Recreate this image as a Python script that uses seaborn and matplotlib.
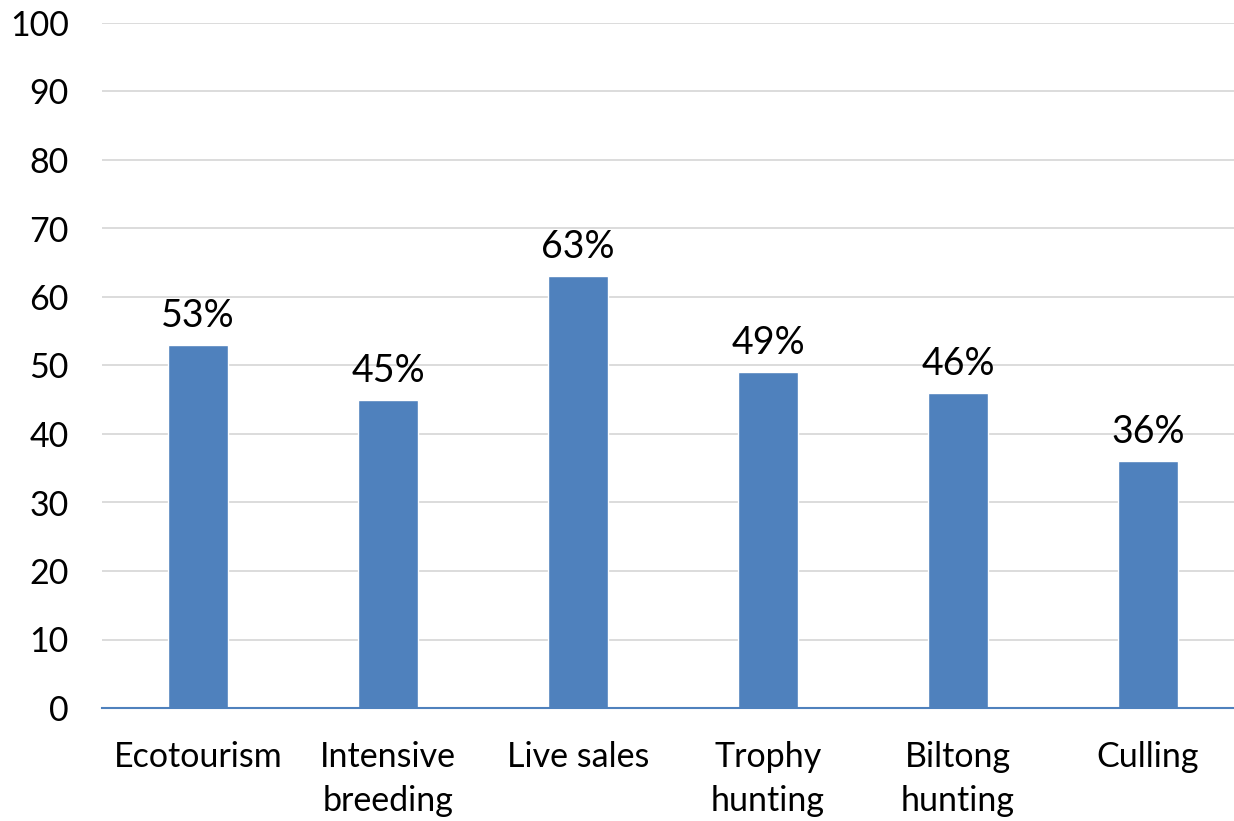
import matplotlib
matplotlib.use("Agg")
import matplotlib.pyplot as plt
import seaborn as sns
import pandas as pd

categories = ["Ecotourism", "Intensive\nbreeding", "Live sales",
              "Trophy\nhunting", "Biltong\nhunting", "Culling"]
values = [53, 45, 63, 49, 46, 36]
y_ticks = list(range(0, 101, 10))

sns.set_style("white")
plt.rcParams['font.family'] = ['Lato', 'DejaVu Sans']

df = pd.DataFrame({"category": categories, "value": values})

fig = plt.figure(figsize=(12.34, 8.21), dpi=100)
ax = fig.add_axes([102 / 1234, 113 / 821, 1 - 102 / 1234, (708 - 23) / 821])

sns.barplot(data=df, x="category", y="value", color="#4F81BD",
            saturation=1, width=0.316, ax=ax)

ax.set_ylim(0, 100)
ax.set_xlim(-0.505, 5.453)
ax.set_yticks(y_ticks)
ax.yaxis.grid(True, color="#D9D9D9", linewidth=1.3)
ax.set_axisbelow(True)
for side in ["top", "right", "left"]:
    ax.spines[side].set_visible(False)
ax.spines["bottom"].set_color("#4F81BD")
ax.spines["bottom"].set_linewidth(1.5)
ax.tick_params(axis="both", length=0, labelsize=24.5, labelcolor="black")
ax.tick_params(axis="x", pad=24)
ax.tick_params(axis="y", pad=24)
for lbl in ax.get_xticklabels():
    lbl.set_linespacing(1.45)
ax.set_xlabel("")
ax.set_ylabel("")

for bar, v in zip(ax.patches, values):
    ax.annotate(f"{v}%", (bar.get_x() + bar.get_width() / 2, bar.get_height()),
                textcoords="offset points", xytext=(0, 8),
                ha="center", va="bottom", fontsize=27, color="black")

fig.savefig("out.png", dpi=100)
